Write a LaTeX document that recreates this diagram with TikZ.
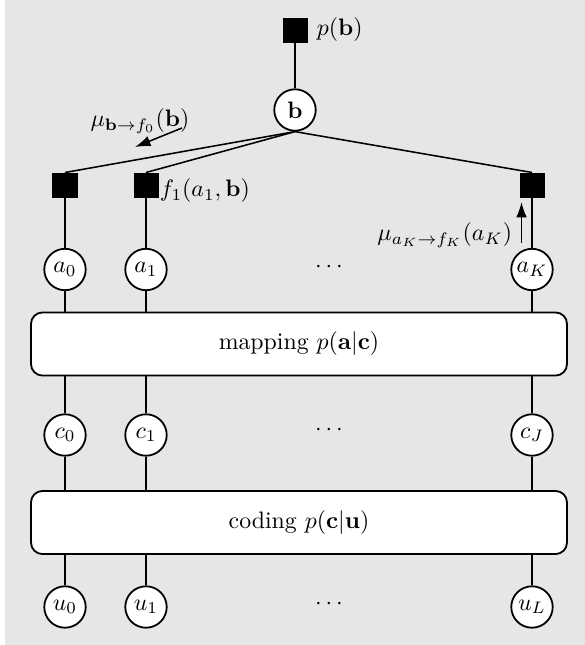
\documentclass[tikz,border=0pt]{standalone}
\usetikzlibrary{arrows.meta}
\definecolor{bggray}{RGB}{230,230,230}
\tikzset{
  varnode/.style={circle,draw,fill=white,line width=0.75pt,minimum size=17.4pt,inner sep=0pt},
  facnode/.style={rectangle,fill=black,draw=black,minimum size=10.1pt,inner sep=0pt},
  bigbox/.style={rectangle,rounded corners=4.8pt,draw,fill=white,line width=0.75pt,minimum width=225.1pt,minimum height=26.5pt},
  edge/.style={line width=0.65pt},
  msgarrow/.style={line width=0.65pt,-{Latex[length=6.5pt,width=4.5pt]}},
  lbl/.style={inner sep=1pt}
}
\begin{document}
\begin{tikzpicture}[x=0.42pt,y=-0.42pt]
\useasboundingbox (0,0) rectangle (585,645);
\fill[bggray] (5,0) rectangle (585,645);
% top
\node[facnode] (pb) at (295,30) {};
\node[lbl,anchor=west] (pbl) at (314,30) {$p(\mathbf{b})$};
\node[varnode] (b) at (295,110) {$\mathbf{b}$};
% factor nodes
\node[facnode] (f0) at (65,185) {};
\node[facnode] (f1) at (146,185) {};
\node[facnode] (fK) at (532,185) {};
\node[lbl,anchor=west] (f1l) at (157,191) {$f_1(a_1,\mathbf{b})$};
% a row
\node[varnode] (a0) at (65,269.5) {$a_0$};
\node[varnode] (a1) at (146,269.5) {$a_1$};
\node[varnode] (aK) at (532,269.5) {$a_K$};
\node (ad) at (329,267) {$\cdots$};
% mapping
\node[bigbox] (map) at (299,344) {mapping $p(\mathbf{a}|\mathbf{c})$};
% c row
\node[varnode] (c0) at (65,435) {$c_0$};
\node[varnode] (c1) at (146,435) {$c_1$};
\node[varnode] (cJ) at (532,435) {$c_J$};
\node (cd) at (329,430) {$\cdots$};
% coding
\node[bigbox] (cod) at (299,522.5) {coding $p(\mathbf{c}|\mathbf{u})$};
% u row
\node[varnode] (u0) at (65,607) {$u_0$};
\node[varnode] (u1) at (146,607) {$u_1$};
\node[varnode] (uL) at (532,607) {$u_L$};
\node (ud) at (329,604) {$\cdots$};
% edges
\draw[edge] (pb) -- (b);
\draw[edge] (b.south) -- (f0.north);
\draw[edge] (b.south) -- (f1.north);
\draw[edge] (b.south) -- (fK.north);
\draw[edge] (f0) -- (a0);
\draw[edge] (f1) -- (a1);
\draw[edge] (fK) -- (aK);
\draw[edge] (a0) -- (a0 |- map.north);
\draw[edge] (a1) -- (a1 |- map.north);
\draw[edge] (aK) -- (aK |- map.north);
\draw[edge] (c0 |- map.south) -- (c0);
\draw[edge] (c1 |- map.south) -- (c1);
\draw[edge] (cJ |- map.south) -- (cJ);
\draw[edge] (c0) -- (c0 |- cod.north);
\draw[edge] (c1) -- (c1 |- cod.north);
\draw[edge] (cJ) -- (cJ |- cod.north);
\draw[edge] (u0 |- cod.south) -- (u0);
\draw[edge] (u1 |- cod.south) -- (u1);
\draw[edge] (uL |- cod.south) -- (uL);
% messages
\node[lbl] (mub) at (140,121) {$\mu_{\mathbf{b}\to f_0}(\mathbf{b})$};
\coordinate (m1s) at (182,128);
\coordinate (m1e) at (135,147);
\draw[msgarrow] (m1s) -- (m1e);
\node[lbl,anchor=east] (mua) at (515,235) {$\mu_{a_K\to f_K}(a_K)$};
\coordinate (m2s) at (521.5,243);
\coordinate (m2e) at (521.5,202);
\draw[msgarrow] (m2s) -- (m2e);
\end{tikzpicture}
\end{document}
